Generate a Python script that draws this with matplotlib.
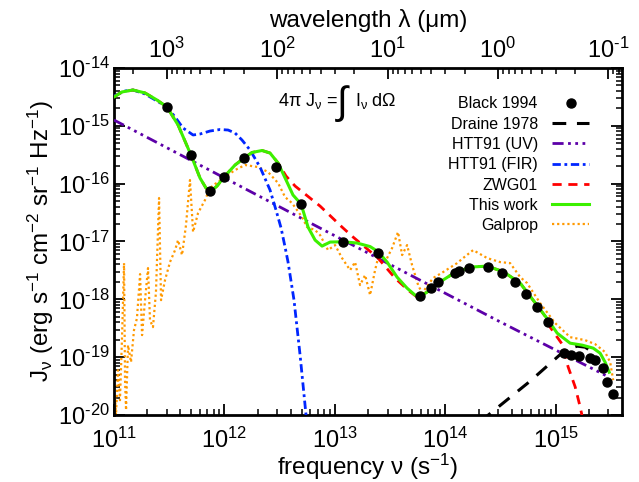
import numpy as np
import matplotlib
matplotlib.use('Agg')
import matplotlib.pyplot as plt
from matplotlib.ticker import LogLocator, NullFormatter, FuncFormatter

plt.rcParams['font.family'] = ['Liberation Sans', 'DejaVu Sans']
plt.rcParams['mathtext.fontset'] = 'custom'
plt.rcParams['mathtext.rm'] = 'Liberation Sans'
plt.rcParams['mathtext.it'] = 'Liberation Sans'
plt.rcParams['mathtext.default'] = 'regular'

# Black 1994 data points (nu in Hz, J in erg s^-1 cm^-2 sr^-1 Hz^-1)
nu_black = [3.00e11, 4.95e11, 7.45e11, 1.00e12, 1.50e12, 2.95e12, 4.94e12,
            1.19e13, 2.48e13, 5.92e13, 7.43e13, 8.65e13, 1.23e14, 1.33e14,
            1.64e14, 2.45e14, 3.29e14, 4.29e14, 5.36e14, 6.82e14, 8.53e14,
            1.18e15, 1.38e15, 1.63e15, 2.05e15, 2.28e15, 2.70e15, 2.94e15, 3.27e15]
J_black = [2.14e-15, 3.13e-16, 7.45e-17, 1.30e-16, 2.81e-16, 1.96e-16, 4.44e-17,
           9.9e-18, 6.43e-18, 1.15e-18, 1.60e-18, 1.96e-18, 2.84e-18, 3.08e-18,
           3.51e-18, 3.56e-18, 2.81e-18, 2.01e-18, 1.26e-18, 7.35e-19, 4.03e-19,
           1.20e-19, 1.11e-19, 1.05e-19, 9.8e-20, 9.06e-20, 6.38e-20, 3.77e-20, 2.28e-20]

# curves, as log10(nu) / log10(J)
lnu_draine = [14.315, 14.388, 14.768, 15.085, 15.194, 15.266, 15.375]
lJ_draine = [-20.125, -20.003, -19.415, -18.879, -18.810, -18.827, -18.965]

lnu_uv = [11.0, 12.866, 14.496, 15.466]
lJ_uv = [-14.900, -16.768, -18.389, -19.329]

lnu_fir = [11.000, 11.100, 11.172, 11.281, 11.389, 11.480, 11.553, 11.625, 11.716,
           11.779, 11.870, 11.960, 12.033, 12.096, 12.159, 12.232, 12.322, 12.413,
           12.467, 12.513, 12.549, 12.576, 12.630, 12.685, 12.739, 12.757]
lJ_fir = [-14.484, -14.398, -14.381, -14.450, -14.571, -14.675, -14.848, -15.038, -15.159,
          -15.142, -15.090, -15.064, -15.073, -15.125, -15.246, -15.419, -15.713, -16.111,
          -16.457, -16.768, -17.097, -17.356, -18.014, -18.965, -20.003, -20.298]

lnu_this = [11.000, 11.072, 11.172, 11.281, 11.389, 11.480, 11.580, 11.697, 11.779,
            11.833, 11.879, 11.933, 11.996, 12.096, 12.178, 12.250, 12.341, 12.413,
            12.486, 12.558, 12.621, 12.694, 12.757, 12.821, 12.884, 12.957, 13.074,
            13.201, 13.319, 13.391, 13.473, 13.563, 13.654, 13.726, 13.772, 13.835,
            13.935, 14.071, 14.225, 14.379, 14.524, 14.678, 14.795, 14.922, 15.013,
            15.130, 15.239, 15.339, 15.402, 15.447, 15.484]
lJ_this = [-14.502, -14.415, -14.381, -14.432, -14.554, -14.675, -14.986, -15.505, -15.903,
           -16.076, -16.128, -16.041, -15.886, -15.678, -15.557, -15.461, -15.427, -15.471,
           -15.644, -15.938, -16.197, -16.353, -16.751, -16.976, -17.080, -17.010, -17.005,
           -17.027, -17.088, -17.175, -17.356, -17.616, -17.807, -17.927, -17.953, -17.875,
           -17.720, -17.556, -17.443, -17.426, -17.521, -17.720, -18.014, -18.334, -18.585,
           -18.758, -18.792, -18.844, -18.931, -19.087, -19.260]

lnu_zwg = [11.000, 11.072, 11.172, 11.281, 11.389, 11.480, 11.580, 11.697, 11.779,
           11.833, 11.879, 11.933, 11.996, 12.096, 12.178, 12.250, 12.341, 12.413,
           12.486, 12.558, 12.640, 12.866, 13.065, 13.165, 13.391, 13.545, 13.663,
           13.745, 13.835, 13.935, 14.071, 14.225, 14.379, 14.524, 14.678, 14.795,
           14.904, 14.949, 15.058, 15.112, 15.176, 15.221, 15.257]
lJ_zwg = [-14.502, -14.415, -14.381, -14.432, -14.554, -14.675, -14.986, -15.505, -15.903,
          -16.076, -16.128, -16.041, -15.886, -15.678, -15.557, -15.461, -15.427, -15.471,
          -15.644, -15.869, -16.042, -16.388, -16.751, -16.924, -17.287, -17.633, -17.841,
          -17.962, -17.875, -17.720, -17.556, -17.443, -17.426, -17.521, -17.720, -18.014,
          -18.291, -18.481, -18.775, -19.168, -19.514, -19.860, -20.176]

lnu_galprop = [11.000, 11.009, 11.018, 11.036, 11.054, 11.072, 11.091, 11.100, 11.109,
               11.127, 11.154, 11.181, 11.208, 11.236, 11.254, 11.281, 11.308, 11.326,
               11.353, 11.380, 11.408, 11.426, 11.462, 11.507, 11.553, 11.580, 11.616,
               11.652, 11.688, 11.716, 11.761, 11.824, 11.870, 11.915, 12.005, 12.096,
               12.187, 12.304, 12.395, 12.486, 12.549, 12.612, 12.703, 12.748, 12.821,
               12.866, 12.938, 13.002, 13.065, 13.138, 13.183, 13.228, 13.274, 13.319,
               13.364, 13.409, 13.455, 13.518, 13.572, 13.609, 13.654, 13.699, 13.754,
               13.790, 13.889, 13.980, 14.107, 14.161, 14.252, 14.379, 14.496, 14.587,
               14.678, 14.741, 14.859, 14.995, 15.130, 15.266, 15.357, 15.447, 15.493, 15.520]
lJ_galprop = [-19.969, -19.657, -20.003, -19.225, -19.744, -18.706, -17.374, -19.398, -19.917,
              -18.792, -19.087, -18.533, -18.325, -17.564, -18.619, -18.014, -17.460, -18.360,
              -18.481, -17.875, -16.249, -18.014, -17.668, -17.356, -17.149, -16.976, -17.235,
              -16.716, -15.938, -16.837, -16.509, -16.284, -16.076, -16.007, -15.886, -15.765,
              -15.678, -15.713, -15.799, -15.990, -16.232, -16.336, -16.578, -16.751, -16.803,
              -16.889, -17.149, -17.062, -17.287, -17.495, -17.356, -17.754, -17.581, -17.927,
              -17.495, -17.149, -17.356, -17.114, -16.837, -17.235, -17.062, -17.408, -17.754,
              -17.893, -17.633, -17.529, -17.374, -17.287, -17.149, -17.287, -17.356, -17.374,
              -17.616, -17.720, -18.066, -18.412, -18.654, -18.706, -18.775, -18.913, -19.087, -19.398]


def p(a):
    return 10.0 ** np.asarray(a)


def sci(v, pos):
    # decade label with a short hyphen as minus sign
    e = int(round(np.log10(v)))
    return '10$^{%s}$' % str(e).replace('-', '\u2010')


fig = plt.figure(figsize=(6.39, 4.82), dpi=100)
ax = fig.add_axes([0.1784, 0.139, 0.795, 0.720])
ax.set_xscale('log')
ax.set_yscale('log')

l_gal, = ax.plot(p(lnu_galprop), p(lJ_galprop), color='#ff9900', lw=1.6,
                 dashes=(1.0, 1.3), label='Galprop', zorder=2)
l_uv, = ax.plot(p(lnu_uv), p(lJ_uv), color='#5c00a8', lw=2.0,
                dashes=(4, 1.6, 1, 1.6, 1, 1.6, 1, 1.6), label='HTT91 (UV)', zorder=3)
l_fir, = ax.plot(p(lnu_fir), p(lJ_fir), color='#0026ff', lw=2.0,
                 dashes=(3, 1.3, 1, 1.3), label='HTT91 (FIR)', zorder=3)
l_dr, = ax.plot(p(lnu_draine), p(lJ_draine), color='black', lw=2.2,
                dashes=(4.5, 3.5), label='Draine 1978', zorder=3)
l_zwg, = ax.plot(p(lnu_zwg), p(lJ_zwg), color='#ff0000', lw=2.0,
                 dashes=(3.3, 2.4), label='ZWG01', zorder=4)
l_this, = ax.plot(p(lnu_this), p(lJ_this), color='#3cf000', lw=2.2,
                  label='This work', zorder=5)
l_bl, = ax.plot(nu_black, J_black, 'o', color='black', ms=6.5, ls='none',
                label='Black 1994', zorder=6)

ax.set_xlim(1e11, 10 ** 15.6)
ax.set_ylim(1e-20, 1e-14)
ax.yaxis.set_major_locator(LogLocator(base=10, numticks=20))
ax.yaxis.set_minor_locator(LogLocator(base=10, subs=np.arange(2, 10), numticks=20))
ax.yaxis.set_major_formatter(FuncFormatter(sci))
ax.yaxis.set_minor_formatter(NullFormatter())

for s in ax.spines.values():
    s.set_linewidth(2)
ax.tick_params(which='both', direction='in', top=False, right=True, labelsize=17)
ax.tick_params(which='major', length=8, width=1.3)
ax.tick_params(which='minor', length=4, width=1.1)
ax.tick_params(axis='x', pad=9)
ax.tick_params(axis='y', pad=3)

c_um = 2.998e14


def conv(x):
    x = np.asarray(x, dtype=float)
    with np.errstate(divide='ignore'):
        return c_um / x


sec = ax.secondary_xaxis('top', functions=(conv, conv))
sec.xaxis.set_major_formatter(FuncFormatter(sci))
sec.xaxis.set_minor_formatter(NullFormatter())
sec.tick_params(which='both', direction='in', labelsize=17, pad=4)
sec.tick_params(which='major', length=8, width=1.3)
sec.tick_params(which='minor', length=4, width=1.1)
sec.set_xlabel('wavelength λ (μm)', fontsize=17.5, labelpad=7)

ax.set_xlabel('frequency ν (s$^{-1}$)', fontsize=17.5, labelpad=-1)
ax.set_ylabel('J$_\\nu$ (erg s$^{-1}$ cm$^{-2}$ sr$^{-1}$ Hz$^{-1}$)', fontsize=17.5, labelpad=1)

# 4 pi J = integral annotation
ax.text(0.3228, 0.905, '4π J$_\\nu$ =', transform=ax.transAxes, ha='left', va='center', fontsize=13)
ax.text(0.4498, 0.896, '∫', transform=ax.transAxes, ha='center', va='center', fontsize=28)
ax.text(0.4744, 0.905, 'I$_\\nu$ dΩ', transform=ax.transAxes, ha='left', va='center', fontsize=13)

handles = [l_bl, l_dr, l_uv, l_fir, l_zwg, l_this, l_gal]
ax.legend(handles=handles, loc='upper right', bbox_to_anchor=(0.935, 0.918),
          frameon=False, markerfirst=False, fontsize=11.5, numpoints=1,
          handlelength=2.3, handletextpad=0.9, labelspacing=0.33,
          borderpad=0, borderaxespad=0)

fig.savefig('out.png', dpi=100)
